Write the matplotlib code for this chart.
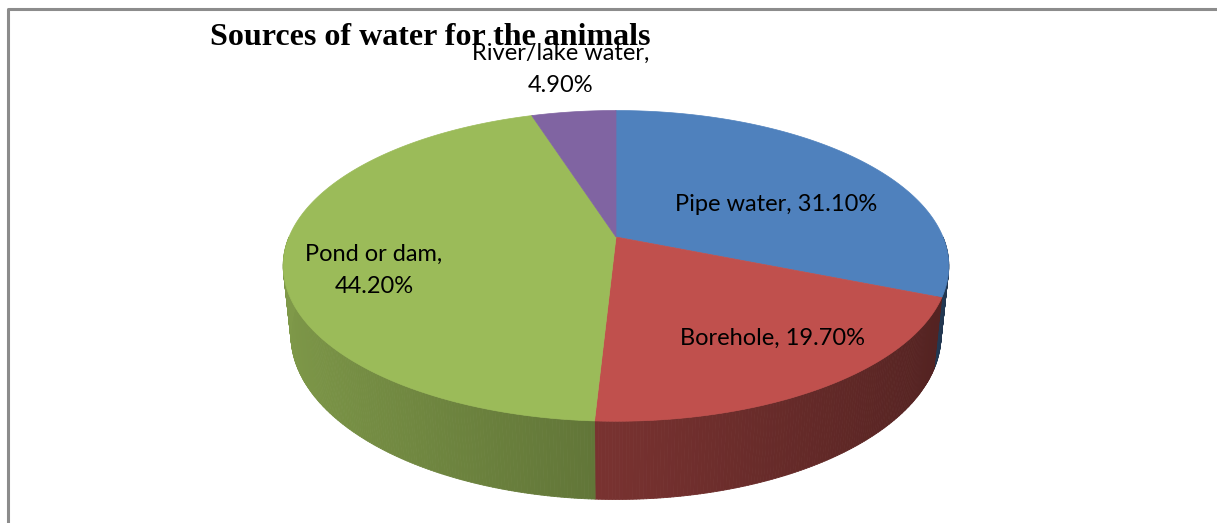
import numpy as np
import matplotlib
matplotlib.use("Agg")
import matplotlib.pyplot as plt
from matplotlib.collections import PolyCollection
from matplotlib.patches import Polygon
from matplotlib.colors import to_rgb

# water sources, clockwise from 12 o'clock
sources = ["Pipe water", "Borehole", "Pond or dam", "River/lake water"]
shares = [31.10, 19.70, 44.20, 4.90]
colours = ["#4F81BD", "#C0504D", "#9BBB59", "#8064A2"]

# 3d view of the pie (pixel space)
cx, cy = 616, 237      # apex of the top face
k = 327                # radius in px
elev = np.radians(27.3)
D = 4.78               # camera distance, in radii
h = 0.24               # thickness, in radii
se, ce = np.sin(elev), np.cos(elev)


def project(phi, y):
    """phi = clockwise angle from 12 o'clock, y = height (0 top face)"""
    x = np.sin(phi)
    z = -np.cos(phi)
    yv = y*ce - z*se
    zv = y*se + z*ce
    s = D/(D - zv)
    return cx + k*x*s, cy - k*yv*s


fig = plt.figure(figsize=(12.17, 5.23), dpi=100)
ax = fig.add_axes([0, 0, 1, 1])
ax.set_xlim(0, 1217)
ax.set_ylim(523, 0)
ax.axis("off")

# frame
ax.plot([7.5, 7.5, 1217], [523, 8.5, 8.5], color="#8c8c8c", lw=2.2, solid_capstyle="butt")

fracs = np.array(shares)/np.sum(shares)
edges = np.concatenate([[0], np.cumsum(fracs)])*2*np.pi

# side wall, only the front half shows
quads = []
qcols = []
for i in range(len(shares)):
    a0 = max(edges[i], np.pi/2)
    a1 = min(edges[i+1], 3*np.pi/2)
    if a1 <= a0:
        continue
    n = max(2, int(np.degrees(a1 - a0)*2))
    ph = np.linspace(a0, a1, n+1)
    base = np.array(to_rgb(colours[i]))
    for p0, p1 in zip(ph[:-1], ph[1:]):
        pts = [project(p0, 0), project(p1, 0), project(p1, -h), project(p0, -h)]
        quads.append(pts)
        xm = np.sin(0.5*(p0 + p1))
        f = 0.62 - 0.2*xm
        qcols.append(np.clip(base*f, 0, 1))
ax.add_collection(PolyCollection(quads, facecolors=qcols, edgecolors=qcols, linewidths=0.6))

# top face
for i in range(len(shares)):
    ph = np.linspace(edges[i], edges[i+1], 200)
    xs, ys = project(ph, 0)
    pts = np.column_stack([np.r_[cx, xs], np.r_[cy, ys]])
    ax.add_patch(Polygon(pts, closed=True, facecolor=colours[i], edgecolor=colours[i], lw=0.5))

# labels
lab_font = dict(family="Lato", fontsize=17, color="black", ha="center", va="baseline")


def label(x, y, lines, gap=32):
    for j, s in enumerate(lines):
        ax.text(x, y + j*gap, s, **lab_font)


label(776, 211, [f"{sources[0]}, {shares[0]:.2f}%"])
label(773, 345, [f"{sources[1]}, {shares[1]:.2f}%"])
label(374, 261, [f"{sources[2]},", f"{shares[2]:.2f}%"])
label(561, 60, [f"{sources[3]},", f"{shares[3]:.2f}%"])

ax.text(210, 45, "Sources of water for the animals", family="Liberation Serif",
        fontweight="bold", fontsize=23, ha="left", va="baseline")

fig.savefig("out.png", dpi=100)
